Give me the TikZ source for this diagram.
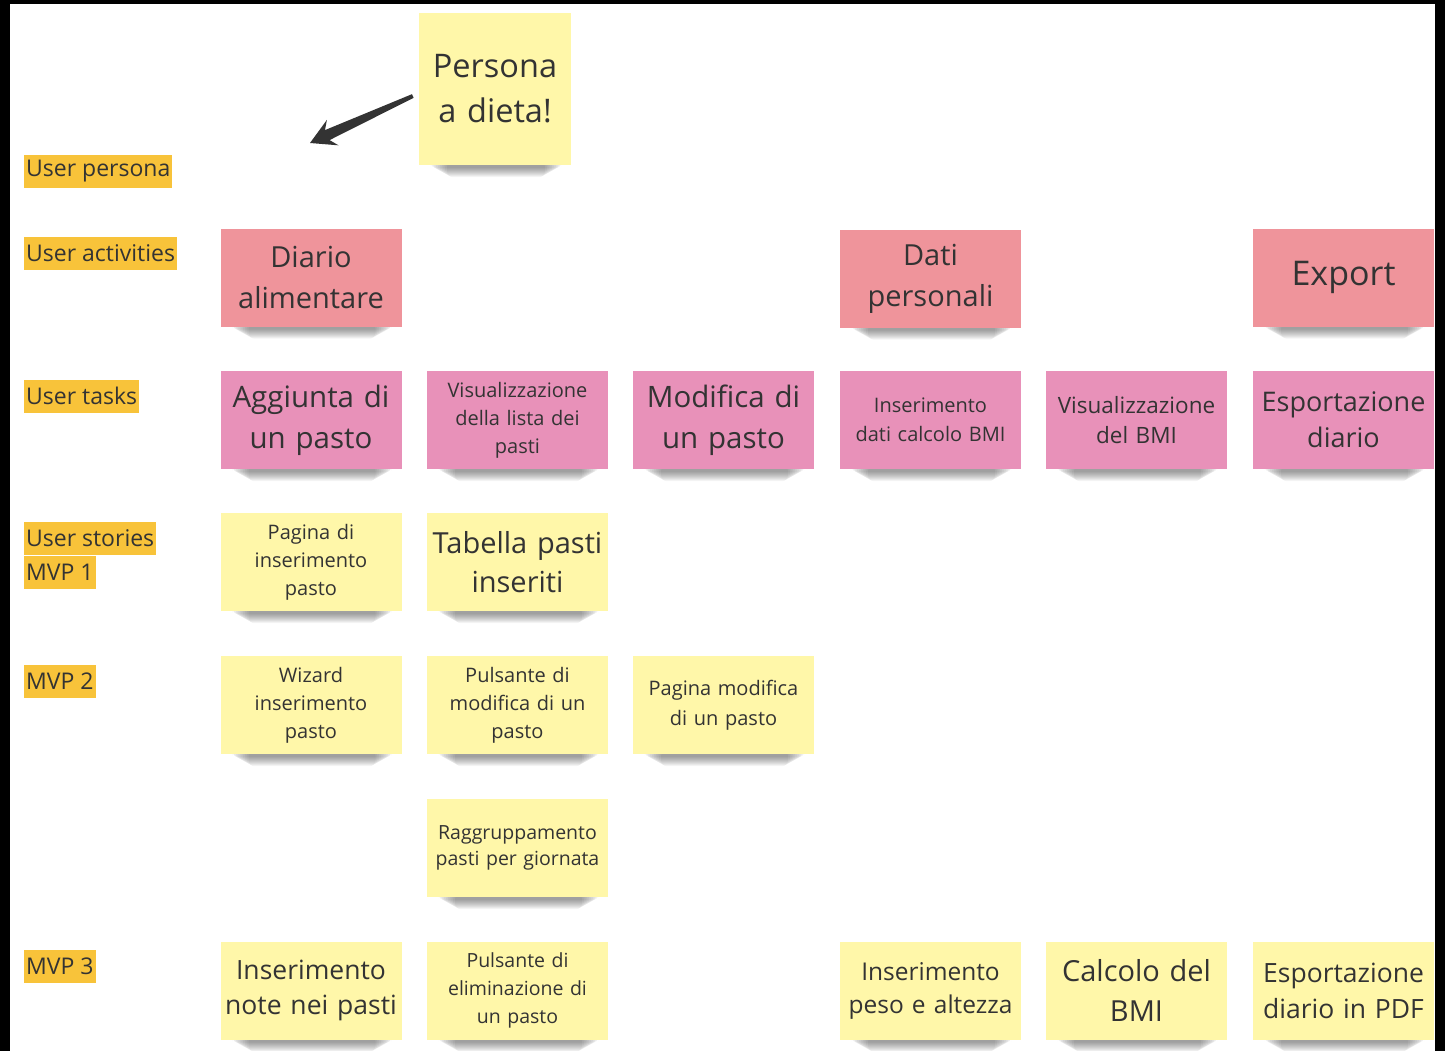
\documentclass[tikz,border=0pt]{standalone}
\usepackage{fontspec}
\setmainfont{Open Sans}
\usetikzlibrary{arrows.meta,calc}
\definecolor{noteyel}{HTML}{FFF7A9}
\definecolor{notepink}{HTML}{E891B9}
\definecolor{notered}{HTML}{EF949B}
\definecolor{lblorange}{HTML}{F8C33A}
\definecolor{txt}{HTML}{333333}
\newcommand\fsz[2]{\fontsize{#1}{#2}\selectfont}
\pgfdeclarelayer{bg}
\pgfdeclarelayer{shadowlayer}
\pgfsetlayers{bg,shadowlayer,main}
\tikzset{
  note/.style={rectangle, minimum width=181pt, minimum height=98pt, align=center, text=txt, inner sep=3pt, text width=175pt},
  yel/.style={note, fill=noteyel},
  pnk/.style={note, fill=notepink},
  red/.style={note, fill=notered},
  lbl/.style={rectangle, fill=lblorange, text=txt, anchor=west, inner xsep=2pt, inner ysep=0pt, minimum height=33pt, font=\fsz{23}{26}},
}
\newcommand\nshadow[1]{%
  \begin{pgfonlayer}{shadowlayer}
  \foreach \k in {0,...,9}{
    \fill[black, opacity=0.045, rounded corners=6pt]
      ($(#1.south west)+(12+\k*1.8,-4)$) rectangle ($(#1.south east)+(-10-\k*1.8,3+\k*1.0)$);
  }
  \end{pgfonlayer}}
\begin{document}
\begin{tikzpicture}[x=1pt,y=-1pt]
\begin{pgfonlayer}{bg}
\fill[black] (0,0) rectangle (1445,1051);
\fill[white] (10,4) rectangle (1435,1051);
\end{pgfonlayer}
\useasboundingbox (0,0) rectangle (1445,1051);

% labels
\node[lbl] (l1) at (24,171.5) {User persona};
\node[lbl] (l2) at (24,253) {User activities};
\node[lbl] (l3) at (24,396) {User tasks};
\node[lbl] (l4) at (24,538) {User stories};
\node[lbl] (l5) at (24,572) {MVP 1};
\node[lbl] (l6) at (24,681) {MVP 2};
\node[lbl] (l7) at (24,966) {MVP 3};

% persona
\node[yel, minimum width=152pt, minimum height=152pt, text width=146pt, font=\fsz{32.5}{45}] (persona) at (495,89) {Persona\\a dieta!};
\nshadow{persona}
\coordinate (arrowend) at (310,143);
\coordinate (arrowstart) at ([xshift=-6pt,yshift=-7pt]persona.west);
\coordinate (neck) at ($(arrowend)!19pt!(arrowstart)$);
\coordinate (back) at ($(arrowend)!25pt!(arrowstart)$);
\fill[txt] ($(arrowstart)!2pt!90:(arrowend)$) -- ($(neck)!5.5pt!90:(arrowend)$) -- ($(back)!14pt!90:(arrowend)$) -- (arrowend)
  -- ($(back)!14pt!-90:(arrowend)$) -- ($(neck)!5.5pt!-90:(arrowend)$) -- ($(arrowstart)!2pt!-90:(arrowend)$) -- cycle;

% activities
\node[red, font=\fsz{29}{41}] (a1) at (311,277.5) {Diario\\alimentare};
\node[red, font=\fsz{29}{41}] (a2) at (930.5,278.5) {Dati\\personali};
\node[red, font=\fsz{34}{44}] (a3) at (1343.5,277.5) {Export};

% tasks
\node[pnk, font=\fsz{29.5}{41}] (t1) at (311,420) {Aggiunta di\\un pasto};
\node[pnk, font=\fsz{20}{28}] (t2) at (517.5,420) {Visualizzazione\\della lista dei\\pasti};
\node[pnk, font=\fsz{29.5}{41}] (t3) at (723.5,420) {Modifica di\\un pasto};
\node[pnk, font=\fsz{20}{29}] (t4) at (930.5,420) {Inserimento\\dati calcolo BMI};
\node[pnk, font=\fsz{22.5}{30}] (t5) at (1136.5,420) {Visualizzazione\\del BMI};
\node[pnk, font=\fsz{27}{36}] (t6) at (1343.5,420) {Esportazione\\diario};

% MVP1
\node[yel, font=\fsz{20}{28}] (m1a) at (311,562) {Pagina di\\inserimento\\pasto};
\node[yel, font=\fsz{29}{39}] (m1b) at (517.5,562) {Tabella pasti\\inseriti};

% MVP2
\node[yel, font=\fsz{20}{28}] (m2a) at (311,705) {Wizard\\inserimento\\pasto};
\node[yel, font=\fsz{20}{28}] (m2b) at (517.5,705) {Pulsante di\\modifica di un\\pasto};
\node[yel, font=\fsz{20}{30}] (m2c) at (723.5,705) {Pagina modifica\\di un pasto};
\node[yel, font=\fsz{19.5}{26}] (m2d) at (517.5,848) {Raggruppamento\\pasti per giornata};

% MVP3
\node[yel, font=\fsz{26.5}{35}] (m3a) at (311,990.5) {Inserimento\\note nei pasti};
\node[yel, font=\fsz{19.5}{28}] (m3b) at (517.5,990.5) {Pulsante di\\eliminazione di\\un pasto};
\node[yel, font=\fsz{24.5}{33}] (m3c) at (930.5,990.5) {Inserimento\\peso e altezza};
\node[yel, font=\fsz{29}{40}] (m3d) at (1136.5,990.5) {Calcolo del\\BMI};
\node[yel, font=\fsz{26.5}{36}] (m3e) at (1343.5,990.5) {Esportazione\\diario in PDF};

\foreach \n in {a1,a2,a3,t1,t2,t3,t4,t5,t6,m1a,m1b,m2a,m2b,m2c,m2d,m3a,m3b,m3c,m3d,m3e}{\nshadow{\n}}
\end{tikzpicture}
\end{document}
